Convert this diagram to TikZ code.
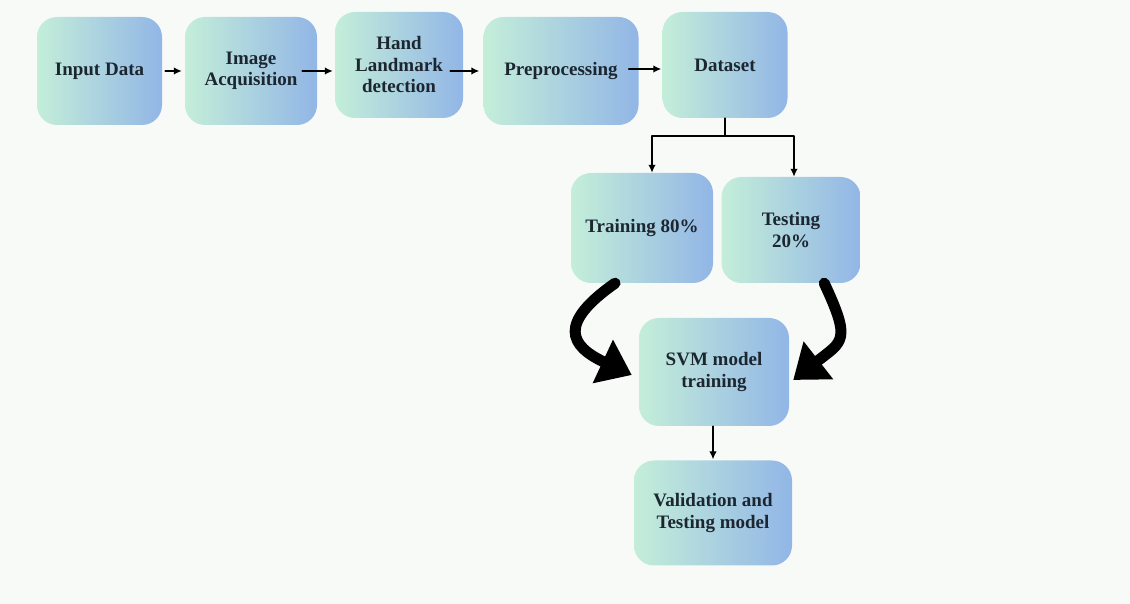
\documentclass[tikz,border=0pt]{standalone}
\usepackage{fontspec}
\setmainfont{Liberation Serif}
\usepackage{tikz}
\usetikzlibrary{arrows.meta}
\usetikzlibrary{positioning}
\usetikzlibrary{calc}
\definecolor{boxmint}{HTML}{C4EED9}
\definecolor{boxblue}{HTML}{92B6E6}
\definecolor{bgwhite}{HTML}{F8FAF8}
\definecolor{inkdark}{HTML}{1C2630}

\begin{document}
\begin{tikzpicture}[x=1pt,y=1pt,line cap=round,line join=round,
  box/.style={rounded corners=20pt,left color=boxmint,right color=boxblue,
    text=inkdark,font=\fontsize{19}{21.5}\selectfont\bfseries,align=center,
    inner sep=2pt,minimum height=106pt},
  flow/.style={-{Latex[length=8pt,width=7.5pt]},line width=1.5pt,color=black},
  bigflow/.style={-{Triangle[length=32pt,width=46pt]},line width=11pt,color=black}]
\useasboundingbox (0,0) rectangle (1130,604);
\fill[bgwhite] (0,0) rectangle (1130,604);
% \draw[step=50,gray,very thin] (0,0) grid (1130,604);

% top row
\node[box,minimum width=125pt,minimum height=108pt] (in) at (99.5,533) {Input Data};
\node[box,minimum width=132pt,minimum height=108pt] (acq) at (251,533) {Image\\Acquisition};
\node[box,minimum width=128pt] (hand) at (399,539) {Hand\\Landmark\\detection};
\node[box,minimum width=155pt,minimum height=108pt] (pre) at (561,533) {Preprocessing};
\node[box,minimum width=125pt] (data) at (725,539) {Dataset};

% split
\node[box,minimum width=142pt,minimum height=110pt] (train) at (642,376) {Training 80\%};
\node[box,minimum width=139pt] (test) at (791,374) {Testing\\20\%};

% model
\node[box,minimum width=150pt,minimum height=108pt] (svm) at (714,232) {SVM model\\training};
\node[box,minimum width=158pt,minimum height=105pt] (valid) at (713,91) {Validation and\\Testing model};

\draw[flow] ([xshift=3pt]in.east) -- ([xshift=-3pt]acq.west);
\draw[flow] ([xshift=-15pt]acq.east) -- ([xshift=-2pt,yshift=-6pt]hand.west);
\draw[flow] ([xshift=-13pt,yshift=-6pt]hand.east) -- ([xshift=-4pt]pre.west);
\draw[flow] ([xshift=-10pt,yshift=2pt]pre.east) -- ([xshift=-1pt,yshift=-4pt]data.west);

\draw[line width=1.6pt] (data.south) -- ++(0,-18) coordinate (fork);
\draw[flow,line width=1.6pt] (fork) -| ([xshift=10pt]train.north);
\draw[flow,line width=1.6pt] (fork) -| ([xshift=3pt]test.north);

\path (train.244) edge[bigflow,out=215,in=155,looseness=1.9] ([xshift=-7pt,yshift=-3pt]svm.west);
\path (test.302) edge[bigflow,out=295,in=38,looseness=1.6] ([xshift=4pt,yshift=-8pt]svm.east);

\draw[flow,line width=1.2pt] ([xshift=-1pt]svm.south) -- ([yshift=1pt]valid.north);
\end{tikzpicture}
\end{document}
